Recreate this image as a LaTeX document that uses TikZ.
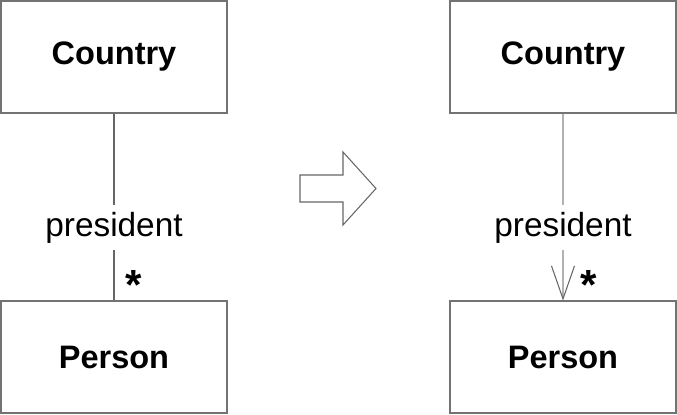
\documentclass[tikz,border=0pt]{standalone}
\usepackage{fontspec}
\setmainfont{Liberation Sans}
\usetikzlibrary{arrows.meta}

\begin{document}
\begin{tikzpicture}[x=0.02cm,y=-0.02cm]
\tikzstyle{classe}=[rectangle,draw=black!55,line width=0.6pt,minimum width=4.52cm,minimum height=2.24cm,
font=\fontsize{18.5}{22}\selectfont\bfseries]
\tikzstyle{role}=[fill=white,inner sep=4pt,font=\fontsize{19}{22}\selectfont]
\tikzstyle{multi}=[font=\fontsize{24}{24}\selectfont\bfseries,inner sep=0pt]
\tikzstyle{assoc}=[draw=black!60,line width=0.6pt]
\tikzstyle{nav}=[draw=black!30,line width=0.6pt,
-{Straight Barb[length=0.66cm,width=0.46cm,color=black!60]}]

\useasboundingbox (0,0) rectangle (677,415);

\node[classe] (pays) at (114,57) {Country};
\node[classe] (personne) at (114,357) {Person};
\node[classe] (pays2) at (563,57) {Country};
\node[classe] (personne2) at (563,357) {Person};

\draw[assoc] (pays) -- node[role,pos=0.61] {president}
  node[multi,pos=0.915,xshift=0.4cm] {*} (personne);
\draw[nav] (pays2) -- node[role,pos=0.61] {president}
  node[multi,pos=0.915,xshift=0.52cm] {*} (personne2);

\draw[black!60,line width=0.6pt] (300,175) -- (343,175) -- (343,152) -- (376,188.5)
  -- (343,225) -- (343,202) -- (300,202) -- cycle;

\end{tikzpicture}
\end{document}
